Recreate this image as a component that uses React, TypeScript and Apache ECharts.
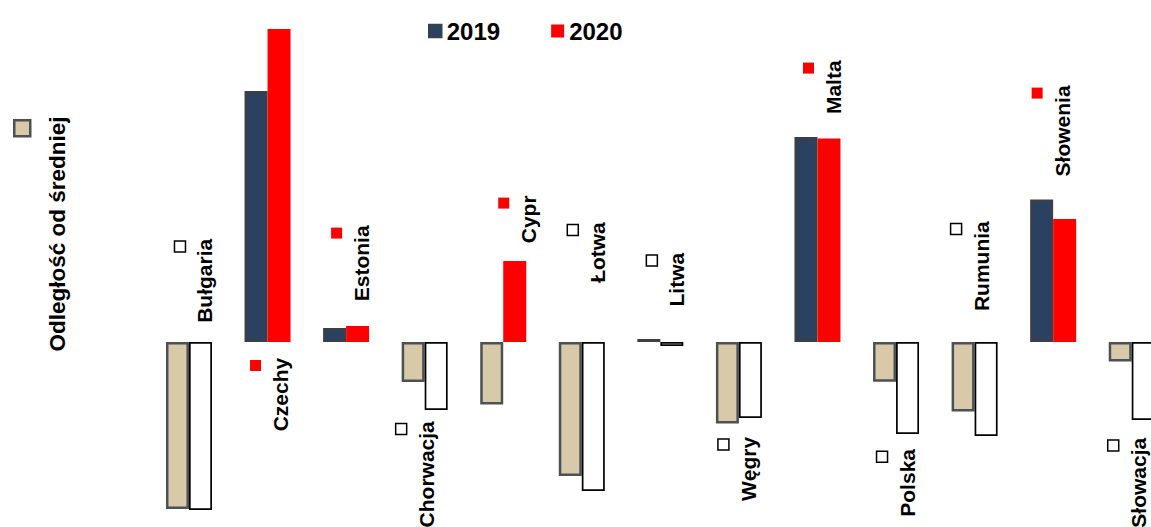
import React, { useEffect, useRef } from "react";
import * as echarts from "echarts";

const categories = [
  "Bułgaria", "Czechy", "Estonia", "Chorwacja", "Cypr", "Łotwa", "Litwa",
  "Węgry", "Malta", "Polska", "Rumunia", "Słowenia", "Słowacja",
];
const values2019 = [-8.35, 12.55, 0.7, -2.0, -3.13, -6.7, 0.15, -4.07, 10.25, -1.99, -3.47, 7.13, -0.97];
const values2020 = [-8.4, 15.65, 0.8, -3.4, 4.05, -7.45, -0.2, -3.8, 10.18, -4.6, -4.7, 6.15, -3.9];
const seriesNames = ["2019", "2020"];
const axisTitle = "Odległość od średniej";

// manual label placement (as in the source chart): top end of each label, in axis units
const labelTops = [5.16, -0.79, 5.83, -3.96, 7.33, 5.99, 4.46, -4.74, 14.08, -5.35, 6.04, 12.83, -4.79];
// horizontal shift of each label's key marker from its category centre, px
const labelShift = [-9, -12, -9.5, -23.5, 0.5, -9, -8.5, -15.5, -9, -14, -18.5, -16, -18.5];

const FONT = '"Liberation Sans", Arial, Helvetica, sans-serif';
const BLUE = "#2b4162";
const BLUE_BORDER = "#3a4046";
const TAN = "#d8c9a9";
const TAN_BORDER = "#4b5155";
const RED = "#ff0000";

const style2019 = (v: number) =>
  v >= 0
    ? { color: BLUE, borderColor: BLUE_BORDER, borderWidth: 2.5 }
    : { color: TAN, borderColor: TAN_BORDER, borderWidth: 2.5 };
const style2020 = (v: number) =>
  v >= 0
    ? { color: RED, borderWidth: 0 }
    : { color: "#ffffff", borderColor: "#000000", borderWidth: 1.7 };

export default function App() {
  const ref = useRef<HTMLDivElement>(null);

  useEffect(() => {
    if (!ref.current) return;
    const chart = echarts.init(ref.current, null, { renderer: "svg" });
    chart.setOption({
      animation: false,
      backgroundColor: "#ffffff",
      grid: { left: 149.7, right: 0, top: 2, bottom: 5, containLabel: false },
      xAxis: { type: "category", data: categories, show: false },
      yAxis: { type: "value", min: -9, max: 17, show: false },
      legend: {
        left: 423,
        top: 14,
        itemWidth: 13,
        itemHeight: 13,
        itemGap: 51,
        icon: "rect",
        textStyle: { fontSize: 24, fontWeight: "bold", color: "#000", fontFamily: FONT },
        data: [
          { name: seriesNames[0], itemStyle: { color: BLUE, borderColor: BLUE_BORDER, borderWidth: 1.5 } },
          { name: seriesNames[1], itemStyle: { color: RED, borderWidth: 0 } },
        ],
      },
      graphic: [
        {
          type: "rect",
          left: 13,
          top: 119,
          shape: { x: 0, y: 0, width: 16, height: 16 },
          style: { fill: TAN, stroke: TAN_BORDER, lineWidth: 2.5 },
        },
        {
          type: "text",
          x: 57,
          y: 234,
          rotation: Math.PI / 2,
          style: {
            text: axisTitle,
            fill: "#000",
            font: `bold 22.5px ${FONT}`,
            align: "center",
            verticalAlign: "middle",
          },
        },
      ],
      series: [
        {
          name: seriesNames[0],
          type: "bar",
          barWidth: 23,
          barGap: "0%",
          itemStyle: { color: BLUE },
          data: values2019.map((v) => ({ value: v, itemStyle: style2019(v) })),
        },
        {
          name: seriesNames[1],
          type: "bar",
          barWidth: 23,
          barGap: "0%",
          itemStyle: { color: RED },
          data: values2020.map((v) => ({ value: v, itemStyle: style2020(v) })),
        },
        {
          name: "labels",
          type: "custom",
          coordinateSystem: "cartesian2d",
          clip: false,
          silent: true,
          z: 10,
          encode: { x: 0, y: 1 },
          data: categories.map((_, i) => [i, labelTops[i]]),
          renderItem: (params: any, api: any) => {
            const i = api.value(0);
            const p = api.coord([i, api.value(1)]);
            const mx = p[0] + labelShift[i];
            const neg = values2020[i] < 0;
            return {
              type: "group",
              children: [
                {
                  type: "rect",
                  shape: { x: mx - 5.5, y: p[1] + 2.2, width: 11, height: 11 },
                  style: neg
                    ? { fill: "#ffffff", stroke: "#000000", lineWidth: 1.5 }
                    : { fill: RED, stroke: null },
                },
                {
                  type: "text",
                  x: mx + 25,
                  y: p[1],
                  rotation: Math.PI / 2,
                  style: {
                    text: categories[i],
                    fill: "#000",
                    font: `bold 21px ${FONT}`,
                    align: "right",
                    verticalAlign: "middle",
                  },
                },
              ],
            };
          },
        },
      ],
    });
    return () => chart.dispose();
  }, []);

  return (
    <div style={{ position: "fixed", left: 0, top: 0, width: 1151, height: 527, overflow: "hidden", background: "#fff" }}>
      <div ref={ref} style={{ width: 1171, height: 527 }} />
    </div>
  );
}
